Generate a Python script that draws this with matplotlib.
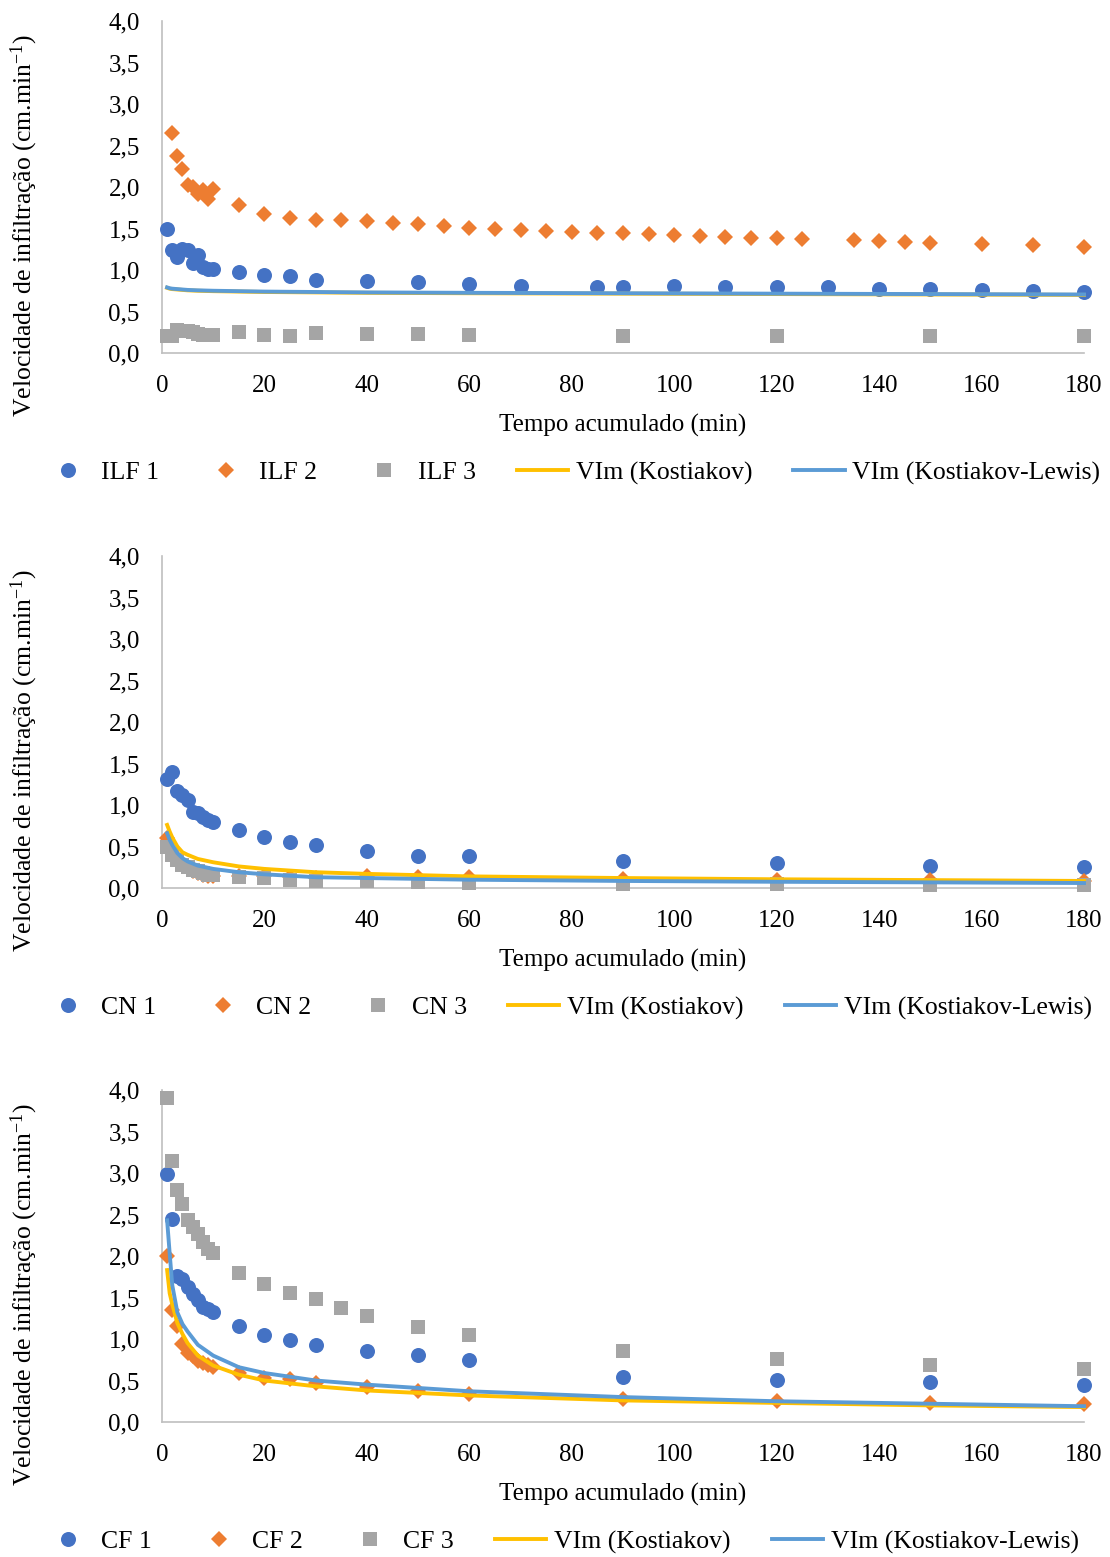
import matplotlib
matplotlib.use("Agg")
import matplotlib.pyplot as plt
from matplotlib.lines import Line2D
from matplotlib.ticker import FuncFormatter

plt.rcParams['font.family'] = ['Liberation Serif', 'DejaVu Serif']
plt.rcParams['mathtext.fontset'] = 'custom'
plt.rcParams['mathtext.rm'] = 'Liberation Serif'
plt.rcParams['mathtext.it'] = 'Liberation Serif:italic'

# ---- data ----
# panel 1: ILF
ilf_t1 = [1, 2, 3, 4, 5, 6, 7, 8, 9, 10, 15, 20, 25, 30, 40, 50, 60, 70, 85, 90,
          100, 110, 120, 130, 140, 150, 160, 170, 180]
ilf1 = [1.49, 1.24, 1.16, 1.25, 1.24, 1.09, 1.18, 1.04, 1.01, 1.01, 0.98, 0.94, 0.93,
        0.88, 0.87, 0.85, 0.83, 0.81, 0.79, 0.79, 0.81, 0.80, 0.80, 0.79, 0.77, 0.77,
        0.76, 0.75, 0.73]
ilf_t2 = [2, 3, 4, 5, 6, 7, 8, 9, 10, 15, 20, 25, 30, 35, 40, 45, 50, 55, 60, 65, 70,
          75, 80, 85, 90, 95, 100, 105, 110, 115, 120, 125, 135, 140, 145, 150, 160,
          170, 180]
ilf2 = [2.65, 2.37, 2.22, 2.02, 2.00, 1.92, 1.96, 1.86, 1.98, 1.78, 1.67, 1.63, 1.60,
        1.60, 1.59, 1.57, 1.55, 1.53, 1.51, 1.50, 1.48, 1.47, 1.46, 1.45, 1.44, 1.43,
        1.42, 1.41, 1.40, 1.39, 1.38, 1.37, 1.36, 1.35, 1.34, 1.33, 1.31, 1.30, 1.28]
ilf_t3 = [1, 2, 3, 4, 5, 6, 7, 8, 9, 10, 15, 20, 25, 30, 40, 50, 60, 90, 120, 150, 180]
ilf3 = [0.20, 0.21, 0.28, 0.27, 0.26, 0.25, 0.23, 0.22, 0.22, 0.22, 0.25, 0.22, 0.20,
        0.24, 0.23, 0.23, 0.22, 0.20, 0.20, 0.20, 0.20]

# fitted curves, sampled at these times
fit_t = [1, 1.5, 2, 3, 4, 5, 7, 10, 15, 20, 30, 40, 60, 90, 120, 150, 180]
ilf_kost = [0.785, 0.775, 0.77, 0.765, 0.76, 0.755, 0.75, 0.745, 0.74, 0.735, 0.73,
            0.725, 0.72, 0.715, 0.71, 0.705, 0.70]
ilf_kl = [0.79, 0.78, 0.775, 0.77, 0.765, 0.76, 0.755, 0.75, 0.745, 0.74, 0.735,
          0.73, 0.725, 0.72, 0.715, 0.71, 0.705]

# panel 2: CN
cn_t = [1, 2, 3, 4, 5, 6, 7, 8, 9, 10, 15, 20, 25, 30, 40, 50, 60, 90, 120, 150, 180]
cn1 = [1.31, 1.40, 1.17, 1.12, 1.06, 0.92, 0.90, 0.86, 0.82, 0.79, 0.70, 0.62, 0.56,
       0.52, 0.44, 0.39, 0.38, 0.33, 0.30, 0.27, 0.25]
cn2 = [0.60, 0.42, 0.33, 0.28, 0.24, 0.21, 0.18, 0.16, 0.15, 0.14, 0.14, 0.14, 0.13,
       0.12, 0.14, 0.13, 0.13, 0.11, 0.10, 0.10, 0.09]
cn3 = [0.50, 0.40, 0.34, 0.28, 0.25, 0.22, 0.20, 0.18, 0.16, 0.16, 0.13, 0.12, 0.10,
       0.09, 0.08, 0.07, 0.06, 0.05, 0.05, 0.04, 0.04]
cn_kost = [0.76, 0.68, 0.61, 0.50, 0.43, 0.40, 0.35, 0.31, 0.26, 0.23, 0.19, 0.17,
           0.14, 0.12, 0.105, 0.095, 0.085]
cn_kl = [0.66, 0.58, 0.52, 0.42, 0.36, 0.32, 0.27, 0.23, 0.19, 0.165, 0.13, 0.12,
         0.10, 0.085, 0.075, 0.068, 0.06]

# panel 3: CF
cf_t = [1, 2, 3, 4, 5, 6, 7, 8, 9, 10, 15, 20, 25, 30, 40, 50, 60, 90, 120, 150, 180]
cf1 = [2.99, 2.45, 1.76, 1.72, 1.63, 1.54, 1.47, 1.39, 1.36, 1.32, 1.16, 1.05, 0.99,
       0.93, 0.85, 0.81, 0.75, 0.54, 0.51, 0.48, 0.45]
cf2 = [2.00, 1.35, 1.16, 0.94, 0.83, 0.79, 0.73, 0.71, 0.69, 0.66, 0.59, 0.53, 0.52,
       0.47, 0.42, 0.37, 0.34, 0.28, 0.25, 0.23, 0.22]
cf_t3 = [1, 2, 3, 4, 5, 6, 7, 8, 9, 10, 15, 20, 25, 30, 35, 40, 50, 60, 90, 120, 150, 180]
cf3 = [3.90, 3.14, 2.80, 2.63, 2.43, 2.35, 2.27, 2.17, 2.09, 2.04, 1.80, 1.66, 1.55,
       1.48, 1.37, 1.28, 1.14, 1.05, 0.86, 0.76, 0.69, 0.64]
cf_kost = [1.83, 1.55, 1.42, 1.19, 1.06, 0.95, 0.80, 0.68, 0.57, 0.50, 0.43, 0.38,
           0.32, 0.26, 0.23, 0.20, 0.18]
cf_kl = [2.43, 2.03, 1.65, 1.32, 1.18, 1.09, 0.93, 0.80, 0.66, 0.59, 0.50, 0.45,
         0.37, 0.30, 0.25, 0.22, 0.19]

x_ticks = [0, 20, 40, 60, 80, 100, 120, 140, 160, 180]
y_ticks = [0, 0.5, 1.0, 1.5, 2.0, 2.5, 3.0, 3.5, 4.0]

panels = [
    ("ILF", (ilf_t1, ilf1), (ilf_t2, ilf2), (ilf_t3, ilf3), ilf_kost, ilf_kl, 21),
    ("CN", (cn_t, cn1), (cn_t, cn2), (cn_t, cn3), cn_kost, cn_kl, 556),
    ("CF", (cf_t, cf1), (cf_t, cf2), (cf_t3, cf3), cf_kost, cf_kl, 1090),
]

BLUE = '#4472C4'
ORANGE = '#ED7D31'
GREY = '#A5A5A5'
YELLOW = '#FFC000'
LBLUE = '#5B9BD5'
AXIS = '#BFBFBF'
FS = 18

W, H = 1110, 1557
fig = plt.figure(figsize=(W / 100, H / 100), dpi=100)

x0, x1 = 162, 1084
ph = 332

for name, s1, s2, s3, kost, kl, top in panels:
    bottom = top + ph
    ax = fig.add_axes([x0 / W, 1 - bottom / H, (x1 - x0) / W, ph / H])
    ax.plot(s1[0], s1[1], 'o', color=BLUE, ms=10.8, mew=0, clip_on=False, zorder=3)
    ax.plot(s2[0], s2[1], 'D', color=ORANGE, ms=8.2, mew=0, clip_on=False, zorder=4)
    ax.plot(s3[0], s3[1], 's', color=GREY, ms=10.5, mew=0, clip_on=False, zorder=5)
    ax.plot(fit_t, kost, '-', color=YELLOW, lw=2.8, clip_on=False, zorder=6)
    ax.plot(fit_t, kl, '-', color=LBLUE, lw=2.8, clip_on=False, zorder=7)

    ax.set_xlim(0, 180)
    ax.set_ylim(0, 4)
    ax.set_xticks(x_ticks)
    ax.set_yticks(y_ticks)
    ax.yaxis.set_major_formatter(FuncFormatter(lambda v, p: f"{v:.1f}".replace('.', ',')))
    ax.tick_params(length=0, labelsize=FS, colors='black')
    ax.tick_params(axis='x', pad=16)
    ax.tick_params(axis='y', pad=16)
    for sp in ['top', 'right']:
        ax.spines[sp].set_visible(False)
    for sp in ['left', 'bottom']:
        ax.spines[sp].set_color(AXIS)
        ax.spines[sp].set_linewidth(1.2)
    ax.set_facecolor('none')

    fig.text((x0 + x1) / 2 / W, 1 - (bottom + 72) / H, "Tempo acumulado (min)",
             ha='center', va='center', fontsize=FS)
    fig.text(24 / W, 1 - (top + 205) / H,
             r"Velocidade de infiltração (cm.min$^{\mathrm{-1}}$)",
             rotation=90, ha='center', va='center', fontsize=18.5)

    handles = [
        Line2D([], [], ls='none', marker='o', color=BLUE, ms=10.8, mew=0),
        Line2D([], [], ls='none', marker='D', color=ORANGE, ms=8.2, mew=0),
        Line2D([], [], ls='none', marker='s', color=GREY, ms=10.5, mew=0),
        Line2D([], [], color=YELLOW, lw=2.8),
        Line2D([], [], color=LBLUE, lw=2.8),
    ]
    labels = [f"{name} 1", f"{name} 2", f"{name} 3",
              "VIm (Kostiakov)", "VIm (Kostiakov-Lewis)"]
    fig.legend(handles, labels, loc='center left',
               bbox_to_anchor=(42 / W, 1 - (bottom + 120) / H),
               ncol=5, frameon=False, prop={'size': 18.5}, numpoints=1,
               handlelength=2.0, handletextpad=0.3, columnspacing=1.6,
               borderpad=0, borderaxespad=0)

fig.savefig("out.png", dpi=100)
